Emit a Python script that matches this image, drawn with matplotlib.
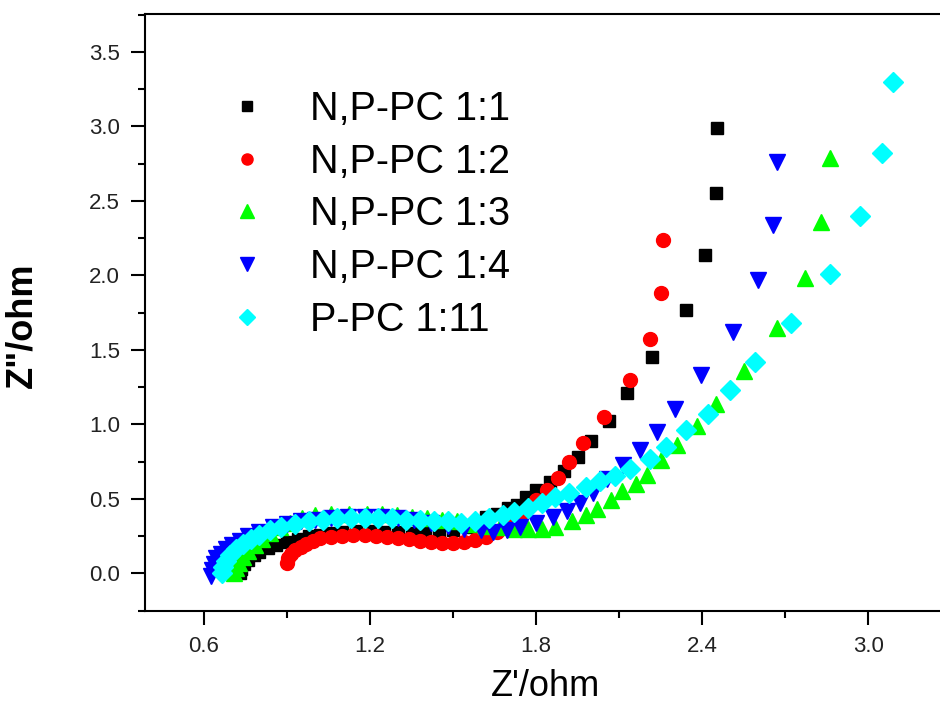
import numpy as np
import matplotlib.pyplot as plt
from matplotlib.ticker import MultipleLocator

# EIS Nyquist data (Z' / ohm, Z'' / ohm)
x_11 = [0.73, 0.735, 0.745, 0.76, 0.78, 0.80, 0.83, 0.86, 0.90, 0.94, 0.98, 1.02, 1.06,
        1.10, 1.15, 1.20, 1.25, 1.30, 1.35, 1.40, 1.45, 1.50, 1.55, 1.585, 1.62, 1.66,
        1.70, 1.73, 1.765, 1.80, 1.85, 1.90, 1.95, 2.00, 2.065, 2.13, 2.22, 2.34, 2.41,
        2.45, 2.455]
y_11 = [0.00, 0.03, 0.06, 0.09, 0.12, 0.145, 0.17, 0.19, 0.21, 0.23, 0.25, 0.26, 0.27,
        0.28, 0.285, 0.285, 0.28, 0.275, 0.27, 0.27, 0.275, 0.29, 0.31, 0.345, 0.38, 0.40,
        0.44, 0.46, 0.51, 0.56, 0.61, 0.69, 0.78, 0.89, 1.02, 1.21, 1.45, 1.77, 2.14,
        2.55, 2.99]

x_12 = [0.90, 0.905, 0.915, 0.93, 0.95, 0.97, 0.995, 1.02, 1.06, 1.10, 1.14, 1.18, 1.22,
        1.26, 1.30, 1.34, 1.38, 1.42, 1.46, 1.50, 1.54, 1.58, 1.62, 1.66, 1.70, 1.73,
        1.76, 1.80, 1.84, 1.88, 1.92, 1.97, 2.047, 2.14, 2.21, 2.25, 2.26]
y_12 = [0.07, 0.10, 0.13, 0.155, 0.18, 0.20, 0.22, 0.235, 0.245, 0.25, 0.255, 0.255, 0.25,
        0.245, 0.24, 0.23, 0.22, 0.21, 0.205, 0.205, 0.21, 0.225, 0.245, 0.275, 0.32, 0.37,
        0.42, 0.49, 0.56, 0.64, 0.75, 0.875, 1.05, 1.295, 1.57, 1.885, 2.24]

x_13 = [0.71, 0.715, 0.725, 0.74, 0.76, 0.785, 0.81, 0.84, 0.875, 0.91, 0.954, 1.00, 1.06,
        1.125, 1.19, 1.243, 1.297, 1.351, 1.406, 1.46, 1.514, 1.57, 1.62, 1.67, 1.72,
        1.77, 1.82, 1.87, 1.93, 1.98, 2.02, 2.07, 2.11, 2.16, 2.20, 2.25, 2.31, 2.38,
        2.45, 2.55, 2.67, 2.77, 2.83, 2.86]
y_13 = [0.00, 0.035, 0.07, 0.11, 0.15, 0.19, 0.23, 0.27, 0.31, 0.34, 0.37, 0.39, 0.40,
        0.40, 0.40, 0.40, 0.39, 0.38, 0.37, 0.36, 0.35, 0.33, 0.32, 0.31, 0.30,
        0.30, 0.30, 0.31, 0.35, 0.39, 0.43, 0.49, 0.55, 0.60, 0.66, 0.76, 0.86, 0.99,
        1.14, 1.36, 1.65, 1.98, 2.36, 2.79]

x_14 = [0.625, 0.63, 0.635, 0.645, 0.66, 0.68, 0.70, 0.73, 0.76, 0.80, 0.85, 0.90, 0.95,
        1.00, 1.06, 1.12, 1.18, 1.24, 1.30, 1.36, 1.42, 1.48, 1.54, 1.60, 1.645, 1.694,
        1.742, 1.80, 1.86, 1.91, 1.96, 2.006, 2.055, 2.115, 2.176, 2.236, 2.30, 2.395,
        2.513, 2.60, 2.655, 2.67]
y_14 = [-0.02, 0.02, 0.06, 0.10, 0.13, 0.16, 0.19, 0.22, 0.25, 0.28, 0.31, 0.33, 0.35,
        0.36, 0.37, 0.38, 0.38, 0.38, 0.37, 0.36, 0.34, 0.32, 0.30, 0.29, 0.28, 0.29,
        0.31, 0.335, 0.38, 0.42, 0.47, 0.54, 0.63, 0.73, 0.83, 0.95, 1.10, 1.33,
        1.62, 1.97, 2.34, 2.76]

x_111 = [0.665, 0.67, 0.68, 0.695, 0.715, 0.74, 0.77, 0.80, 0.84, 0.88, 0.93, 0.98, 1.03,
         1.08, 1.13, 1.18, 1.23, 1.28, 1.33, 1.38, 1.43, 1.48, 1.53, 1.58, 1.63, 1.68,
         1.72, 1.77, 1.82, 1.87, 1.92, 1.98, 2.03, 2.085, 2.14, 2.21, 2.27, 2.34, 2.42,
         2.50, 2.59, 2.72, 2.86, 2.97, 3.05, 3.09]
y_111 = [0.00, 0.04, 0.08, 0.12, 0.16, 0.20, 0.23, 0.26, 0.29, 0.31, 0.33, 0.35, 0.36,
         0.37, 0.37, 0.37, 0.37, 0.37, 0.36, 0.36, 0.35, 0.35, 0.34, 0.35, 0.37, 0.39,
         0.41, 0.44, 0.47, 0.51, 0.54, 0.58, 0.62, 0.65, 0.70, 0.77, 0.85, 0.96, 1.07,
         1.23, 1.42, 1.68, 2.01, 2.40, 2.82, 3.30]

labels = ['N,P-PC 1:1', 'N,P-PC 1:2', 'N,P-PC 1:3', 'N,P-PC 1:4', 'P-PC 1:11']

plt.rcParams['font.family'] = ['Liberation Sans', 'DejaVu Sans']

fig = plt.figure(figsize=(9.4, 7.05), dpi=100)
ax = fig.add_axes([145/940, 1-611/705, (979-145)/940, (611-14)/705])

ax.plot(x_11, y_11, ls='none', marker='s', ms=9, color='black', mec='black', label=labels[0])
ax.plot(x_12, y_12, ls='none', marker='o', ms=10, color='red', mec='red', label=labels[1])
ax.plot(x_13, y_13, ls='none', marker='^', ms=12, color='#00ff00', mec='#00ff00', label=labels[2])
ax.plot(x_14, y_14, ls='none', marker='v', ms=12, color='blue', mec='blue', label=labels[3])
ax.plot(x_111, y_111, ls='none', marker='D', ms=10, color='cyan', mec='cyan', label=labels[4])

ax.set_xlim(0.387, 3.4)
ax.set_ylim(-0.253, 3.755)
ax.xaxis.set_major_locator(MultipleLocator(0.6))
ax.xaxis.set_minor_locator(MultipleLocator(0.3))
ax.yaxis.set_major_locator(MultipleLocator(0.5))
ax.yaxis.set_minor_locator(MultipleLocator(0.25))
ax.xaxis.set_major_formatter(plt.FormatStrFormatter('%.1f'))
ax.yaxis.set_major_formatter(plt.FormatStrFormatter('%.1f'))

ax.spines['right'].set_visible(False)
for s in ['left', 'bottom', 'top']:
    ax.spines[s].set_linewidth(1.5)
ax.tick_params(which='both', direction='out', width=1.5, labelsize=16, colors='black',
               labelcolor='#222222')
ax.tick_params(which='major', length=10, pad=8)
ax.tick_params(which='minor', length=5)

fig.text(545/940, 1-686/705, "Z'/ohm", fontsize=26, ha='center', va='center')
fig.text(22/940, 1-325/705, 'Z"/ohm', fontsize=26, fontweight='bold', ha='center',
         va='center', rotation=90)

ax.legend(loc='upper left', bbox_to_anchor=(227/940, 1-90/705), bbox_transform=fig.transFigure,
          frameon=False, fontsize=28.5, handlelength=1.0, handletextpad=1.1,
          labelspacing=0.37, borderpad=0, borderaxespad=0, markerscale=0.8)

fig.savefig('out.png', dpi=100)
